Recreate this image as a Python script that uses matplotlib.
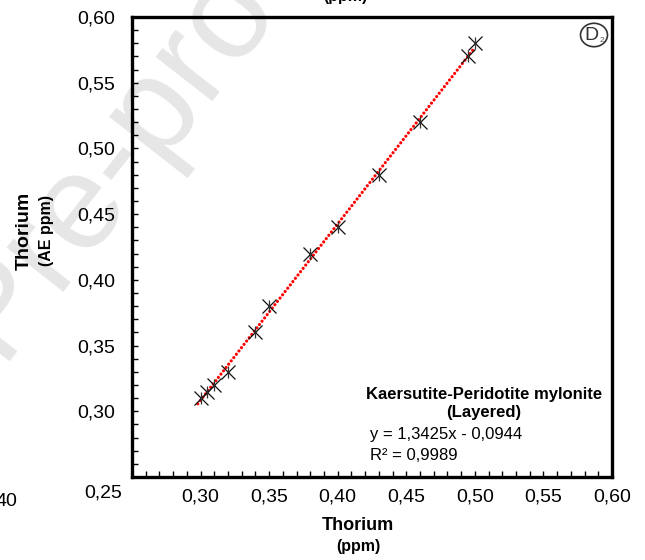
import matplotlib.pyplot as plt
import numpy as np

plt.rcParams['font.family'] = ['Liberation Sans', 'DejaVu Sans']

# Thorium: measured (ppm) vs. AE (ppm)
th_ppm = [0.30, 0.305, 0.31, 0.32, 0.34, 0.35, 0.38, 0.40, 0.43, 0.46, 0.495, 0.50]
th_ae = [0.31, 0.315, 0.32, 0.33, 0.36, 0.38, 0.42, 0.44, 0.48, 0.52, 0.57, 0.58]

# linear fit as printed on the chart
slope = 1.3425
intercept = -0.0944
r2 = 0.9989

ticks = [0.30, 0.35, 0.40, 0.45, 0.50, 0.55, 0.60]
tick_labels = ['0,30', '0,35', '0,40', '0,45', '0,50', '0,55', '0,60']

fig = plt.figure(figsize=(6.45, 5.6), dpi=100)

# faint "Pre-proof" watermark behind everything
fig.text(146 / 645, 1 - 116 / 560, 'Pre-proof', fontsize=98, color='#e6e6e6', rotation=52,
         ha='center', va='center', rotation_mode='anchor', zorder=-10)

ax = fig.add_axes([132 / 645, 83 / 560, 480 / 645, 460 / 560])
ax.set_facecolor('none')

# trend line
xf = np.linspace(0.298, 0.50, 100)
ax.plot(xf, slope * xf + intercept, color='red', lw=2.3,
        linestyle=(0, (0.01, 1.3)), dash_capstyle='round', zorder=2)

# star markers: x plus a short vertical bar
ax.plot(th_ppm, th_ae, linestyle='none', marker='x', ms=10, mew=0.9, color='#111111', zorder=3)
ax.plot(th_ppm, th_ae, linestyle='none', marker='|', ms=9, mew=0.9, color='#333333', zorder=3)

ax.set_xlim(0.25, 0.60)
ax.set_ylim(0.25, 0.60)
ax.set_xticks(ticks)
ax.set_xticklabels(tick_labels)
ax.set_yticks(ticks)
ax.set_yticklabels(tick_labels)
ax.set_xticks(np.arange(0.25, 0.601, 0.01), minor=True)
ax.set_yticks(np.arange(0.25, 0.601, 0.01), minor=True)
ax.tick_params(which='both', direction='in', length=4, width=1, labelsize=14)
ax.tick_params(axis='y', pad=12)
ax.tick_params(axis='x', pad=8)
for s in ax.spines.values():
    s.set_linewidth(2.4)

fig.text(103 / 645, 1 - 493 / 560, '0,25', fontsize=14, ha='center', va='center')

# axis titles
fig.text(358 / 645, 1 - 525 / 560, 'Thorium', fontsize=13, fontweight='bold',
         ha='center', va='center')
fig.text(358 / 645, 1 - 547 / 560, '(ppm)', fontsize=11.5, fontweight='bold',
         ha='center', va='center')
fig.text(24 / 645, 1 - 231 / 560, 'Thorium', fontsize=14, fontweight='bold',
         rotation=90, ha='center', va='center')
fig.text(47 / 645, 1 - 231 / 560, '(AE ppm)', fontsize=11.5, fontweight='bold',
         rotation=90, ha='center', va='center')

# sample name and fit
ax.text(484 / 645, 1 - 394 / 560, 'Kaersutite-Peridotite mylonite', transform=fig.transFigure,
        fontsize=12, fontweight='bold', ha='center', va='center')
ax.text(484 / 645, 1 - 412 / 560, '(Layered)', transform=fig.transFigure,
        fontsize=12, fontweight='bold', ha='center', va='center')
eq = 'y = {}x - {}'.format(str(slope).replace('.', ','), str(-intercept).replace('.', ','))
ax.text(370 / 645, 1 - 435 / 560, eq, transform=fig.transFigure,
        fontsize=12, ha='left', va='center')
ax.text(370 / 645, 1 - 456 / 560, 'R² = ' + str(r2).replace('.', ','), transform=fig.transFigure,
        fontsize=12, ha='left', va='center')

# panel tag
circ = plt.Circle((594 / 645, 1 - 35 / 560), 13.5 / 645, transform=fig.transFigure,
                  fill=False, edgecolor='#333333', lw=1.2)
fig.patches.append(circ)
fig.text(591 / 645, 1 - 35 / 560, 'D', fontsize=14, color='#333333', ha='center', va='center')
fig.text(601.5 / 645, 1 - 40 / 560, '2', fontsize=6, color='#555555', ha='center', va='center')

# bits of neighbouring panels at the edges
fig.text(345 / 645, 1 + 4 / 560, '(ppm)', fontsize=11.5, fontweight='bold', ha='center', va='center')
fig.text(-4 / 645, 1 - 502 / 560, '40', fontsize=14, ha='left', va='center')

fig.savefig('out.png', dpi=100)
